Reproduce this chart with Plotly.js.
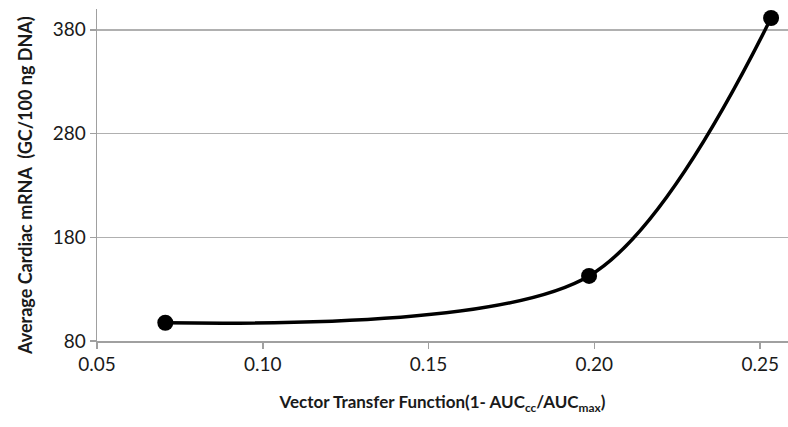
<!DOCTYPE html>
<html>
<head>
<meta charset="utf-8">
<script src="https://cdn.plot.ly/plotly-3.0.1.min.js"></script>
<style>html,body{margin:0;padding:0;background:#fff;}#chart{width:788px;height:427px;}</style>
</head>
<body>
<div id="chart"></div>
<script>
const vtf = [0.0706, 0.1984, 0.2533];
const mrna = [97.6, 142.7, 391.3];
const yTicks = [80, 180, 280, 380];
const xTicks = [0.05, 0.10, 0.15, 0.20, 0.25];
const xTickText = ['0.05', '0.10', '0.15', '0.20', '0.25'];

const trace = {
  x: vtf, y: mrna, type: 'scatter', mode: 'lines+markers',
  line: {color: '#000', width: 3.5, shape: 'spline', smoothing: 0.85},
  marker: {color: '#000', size: 16},
  hoverinfo: 'skip'
};
const font = {family: 'Lato, "Open Sans", sans-serif', color: '#1a1a1a'};
const layout = {
  width: 788, height: 427,
  margin: {l: 97, r: 0, t: 9, b: 86},
  paper_bgcolor: '#fff', plot_bgcolor: '#fff',
  showlegend: false,
  font: font,
  xaxis: {
    range: [0.05, 0.2584],
    tickvals: xTicks, ticktext: xTickText,
    showgrid: false, zeroline: false,
    showline: true, linecolor: '#a0a0a0', linewidth: 1.5,
    ticks: 'outside', ticklen: 6, tickcolor: '#a0a0a0', tickwidth: 1.5,
    tickfont: {family: font.family, size: 19, color: '#1a1a1a'},
    title: {text: '<b>Vector Transfer Function(1- AUC<sub>cc</sub>/AUC<sub>max</sub>)</b>',
      font: {family: font.family, size: 17, color: '#1a1a1a'}, standoff: 22}
  },
  yaxis: {
    range: [80, 400],
    tickvals: yTicks,
    showgrid: true, gridcolor: '#b0b0b0', gridwidth: 1.5,
    zeroline: false,
    showline: true, linecolor: '#a0a0a0', linewidth: 1.5,
    ticks: 'outside', ticklen: 6, tickcolor: '#a0a0a0', tickwidth: 1.5,
    tickfont: {family: font.family, size: 19, color: '#1a1a1a'}
  },
  annotations: [{
    text: '<b>Average Cardiac mRNA  (GC/100 ng DNA)</b>',
    xref: 'paper', yref: 'paper', x: 0, y: 0.467,
    xanchor: 'center', yanchor: 'middle', xshift: -72,
    textangle: -90, showarrow: false,
    font: {family: font.family, size: 18, color: '#1a1a1a'}
  }]
};
Plotly.newPlot('chart', [trace], layout, {staticPlot: true, displayModeBar: false});
</script>
</body>
</html>
